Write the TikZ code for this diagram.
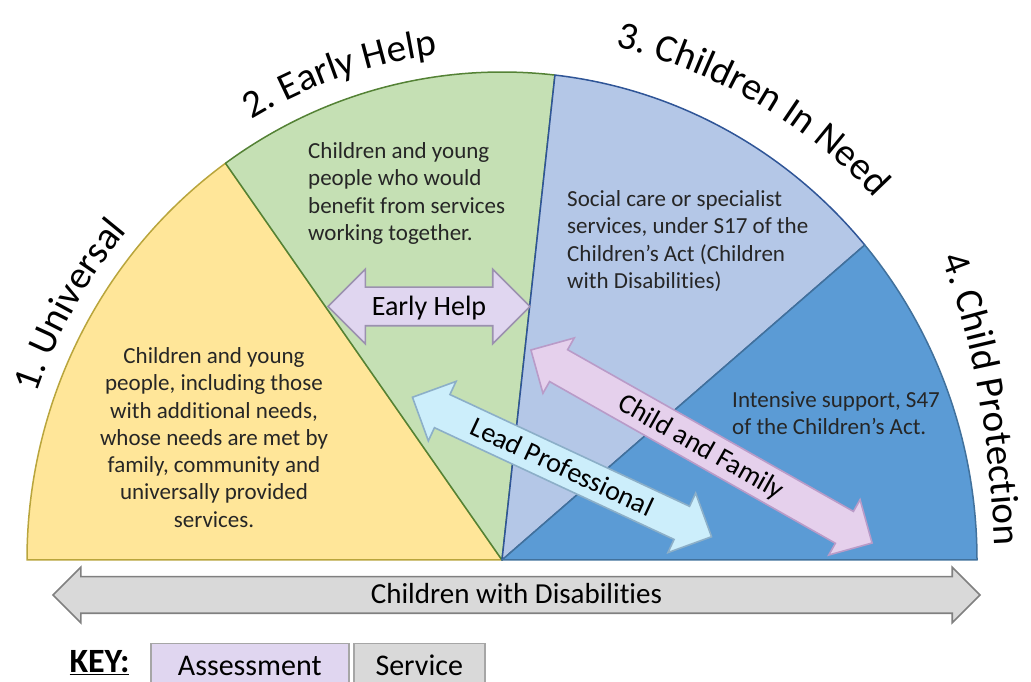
\documentclass[tikz,border=0pt]{standalone}
\usepackage{fontspec}
\setmainfont{Carlito}[Ligatures=NoCommon]
\usetikzlibrary{shapes.arrows}
\usetikzlibrary{decorations.text}
\usetikzlibrary{calc}

\definecolor{univfill}{RGB}{255,230,153}
\definecolor{univline}{RGB}{185,165,60}
\definecolor{earlyfill}{RGB}{197,224,180}
\definecolor{earlyline}{RGB}{84,130,53}
\definecolor{needfill}{RGB}{180,199,231}
\definecolor{needline}{RGB}{47,85,151}
\definecolor{protfill}{RGB}{91,155,213}
\definecolor{protline}{RGB}{65,113,156}
\definecolor{assessfill}{RGB}{224,214,240}
\definecolor{assessline}{RGB}{155,145,175}
\definecolor{familyfill}{RGB}{229,208,236}
\definecolor{familyline}{RGB}{185,155,200}
\definecolor{leadfill}{RGB}{204,238,251}
\definecolor{leadline}{RGB}{140,175,200}
\definecolor{servicefill}{RGB}{217,217,217}
\definecolor{serviceline}{RGB}{128,128,128}
\definecolor{keyline}{RGB}{166,166,166}
\definecolor{bodyink}{RGB}{38,38,38}

\newcommand\titlefont{\fontsize{39}{39}\selectfont}
\newcommand\bodyfont{\fontsize{23}{27.3}\selectfont}
\newcommand\arrowfont{\fontsize{28}{28}\selectfont}

\tikzset{sector/.style={line width=1.5pt,line join=round}}
\tikzset{banner/.style={double arrow,draw,line width=1.6pt,double arrow tip angle=90,
  inner xsep=0pt,inner ysep=3.5pt,text height=23pt,text depth=5pt,font=\arrowfont}}
\tikzset{bodytext/.style={inner sep=0pt,text=bodyink,font=\bodyfont}}
\tikzset{headline/.style={decorate,decoration={text along path,text align=center,text={|\titlefont|#1}}}}
\tikzset{keybox/.style={draw=keyline,line width=1.5pt,minimum height=44pt,inner sep=0pt,
  font=\fontsize{30}{30}\selectfont}}

\begin{document}
\begin{tikzpicture}[x=1pt,y=1pt]
\useasboundingbox (0,0) rectangle (1031,682);
\clip (0,0) rectangle (1031,682);
\coordinate (C) at (502,122);

\filldraw[sector,fill=univfill,draw=univline] (C) -- ($(C)+(180:475 and 488)$)
  arc[start angle=180,end angle=125.6,x radius=475,y radius=488] -- cycle;
\filldraw[sector,fill=earlyfill,draw=earlyline] (C) -- ($(C)+(125.6:475 and 488)$)
  arc[start angle=125.6,end angle=83.6,x radius=475,y radius=488] -- cycle;
\filldraw[sector,fill=needfill,draw=needline] (C) -- ($(C)+(83.6:475 and 488)$)
  arc[start angle=83.6,end angle=40.2,x radius=475,y radius=488] -- cycle;
\filldraw[sector,fill=protfill,draw=protline] (C) -- ($(C)+(40.2:475 and 488)$)
  arc[start angle=40.2,end angle=0,x radius=475,y radius=488] -- cycle;

\path[headline={1. Universal}] ($(C)+(178:493 and 506)$)
  arc[start angle=178,end angle=122,x radius=493,y radius=506];
\path[headline={2. Early Help}] ($(C)+(138:497 and 510)$)
  arc[start angle=138,end angle=79.6,x radius=497,y radius=510];
\path[headline={3. Children In Need}] ($(C)+(95:513 and 526)$)
  arc[start angle=95,end angle=26,x radius=513,y radius=526];
\path[headline={4. Child Protection}] (930,450) .. controls (972,362) and (992,242) .. (996,107);

\node[bodytext,align=center] (univtext) at (214,244.5) {Children and young\\people, including those\\with additional needs,\\whose needs are met by\\family, community and\\universally provided\\services.};
\node[bodytext,align=left,anchor=west] (earlytext) at (308,488.5) {Children and young\\people who would\\benefit from services\\working together.};
\node[bodytext,align=left,anchor=west] (needtext) at (567,441) {Social care or specialist\\services, under S17 of the\\Children’s Act (Children\\with Disabilities)};
\node[bodytext,align=left,anchor=west] (prottext) at (732,268.5) {Intensive support, S47\\of the Children’s Act.};

\node[banner,fill=assessfill,draw=assessline,minimum height=202,minimum width=73,
  double arrow head extend=18,inner ysep=4.5pt] (earlyarrow) at (429,375.5) {Early Help};
\node[banner,fill=leadfill,draw=leadline,rotate=-25,minimum height=330,minimum width=64,
  double arrow head extend=14.5] (leadarrow) at (562,215) {Lead Professional};
\node[banner,fill=familyfill,draw=familyline,rotate=-29.5,minimum height=392,minimum width=62,
  double arrow head extend=13.5] (familyarrow) at (701.5,235.5) {Child and Family};
\node[banner,fill=servicefill,draw=serviceline,minimum height=927,minimum width=54,
  double arrow head extend=9.5,font=\fontsize{29}{29}\selectfont] (disabarrow) at (516.5,87) {Children with Disabilities};

\node[anchor=base,inner sep=0pt,font=\fontsize{34}{34}\selectfont\bfseries] (key) at (99.5,9) {\underline{KEY:}};
\node[keybox,fill=assessfill,minimum width=198,anchor=north west] (assess) at (150,39) {Assessment};
\node[keybox,fill=servicefill,minimum width=131,anchor=north west] (service) at (353,39) {Service};
\end{tikzpicture}
\end{document}
